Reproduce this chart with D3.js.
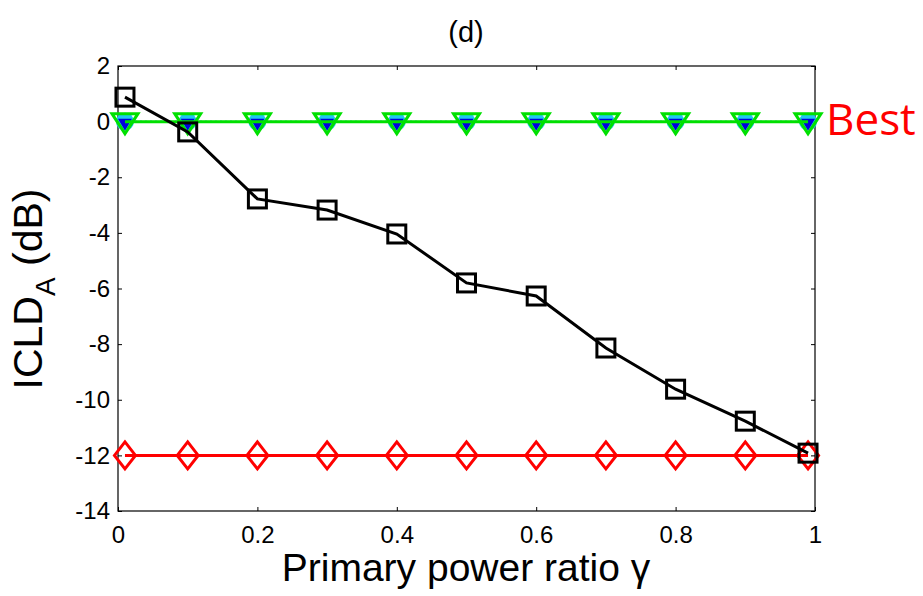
<!DOCTYPE html>
<html>
<head>
<meta charset="utf-8">
<script src="https://cdn.jsdelivr.net/npm/d3@7"></script>
<style>
  html, body { margin: 0; padding: 0; background: #fff; }
  svg { display: block; }
  text { font-family: "Liberation Sans", Arial, sans-serif; }
</style>
</head>
<body>
<svg id="chart" width="923" height="596"></svg>
<script>
// Primary power ratio samples
const gammaValues = [0.01, 0.1, 0.2, 0.3, 0.4, 0.5, 0.6, 0.7, 0.8, 0.9, 0.99];
// ICLD_A estimates (dB) per method
const squareSeries  = [0.88, -0.37, -2.78, -3.18, -4.04, -5.8, -6.27, -8.14, -9.62, -10.77, -11.92];
const diamondSeries = [-12, -12, -12, -12, -12, -12, -12, -12, -12, -12, -12];
const circleSeries  = [0, 0, 0, 0, 0, 0, 0, 0, 0, 0, 0];
const starSeries    = [0, 0, 0, 0, 0, 0, 0, 0, 0, 0, 0];
const triangleSeries = [0, 0, 0, 0, 0, 0, 0, 0, 0, 0, 0];
const xTicks = [0, 0.2, 0.4, 0.6, 0.8, 1];
const yTicks = [2, 0, -2, -4, -6, -8, -10, -12, -14];

const svg = d3.select("#chart");
const L = 118, R = 815, T = 66, B = 511;
const x = d3.scaleLinear().domain([0, 1]).range([L, R]);
const y = d3.scaleLinear().domain([-14, 2]).range([B, T]);

// frame
svg.append("rect").attr("x", L).attr("y", T).attr("width", R - L).attr("height", B - T)
  .attr("fill", "none").attr("stroke", "#000").attr("stroke-width", 1.2);

// axes with inward ticks
const xAxis = svg.append("g").attr("transform", `translate(0,${B})`)
  .call(d3.axisBottom(x).tickValues(xTicks).tickSizeInner(-4).tickSizeOuter(0).tickPadding(15).tickFormat(d => String(d)));
const xAxisTop = svg.append("g").attr("transform", `translate(0,${T})`)
  .call(d3.axisTop(x).tickValues(xTicks).tickSizeInner(-4).tickSizeOuter(0).tickFormat(""));
const yAxis = svg.append("g").attr("transform", `translate(${L},0)`)
  .call(d3.axisLeft(y).tickValues(yTicks).tickSizeInner(-4).tickSizeOuter(0).tickPadding(8).tickFormat(d => String(d)));
const yAxisR = svg.append("g").attr("transform", `translate(${R},0)`)
  .call(d3.axisRight(y).tickValues(yTicks).tickSizeInner(-4).tickSizeOuter(0).tickFormat(""));
[xAxis, xAxisTop, yAxis, yAxisR].forEach(g => {
  g.attr("font-size", null).attr("font-family", null);
  g.select(".domain").remove();
  g.selectAll(".tick line").attr("stroke", "#000").attr("stroke-width", 1);
  g.selectAll("text").style("font-size", "24px").attr("fill", "#000")
    .style("font-family", "'Liberation Sans', Arial, sans-serif");
});

const pts = vals => gammaValues.map((g, i) => [x(g), y(vals[i])]);
const line = d3.line();

// cyan circles
svg.append("g").selectAll("circle").data(pts(circleSeries)).join("circle")
  .attr("cx", d => d[0]).attr("cy", d => d[1]).attr("r", 9).attr("fill", "#1ec8f0");

// blue dotted series with small filled markers
svg.append("path").attr("d", line(pts(starSeries))).attr("fill", "none")
  .attr("stroke", "#0000ff").attr("stroke-width", 2).attr("stroke-dasharray", "2,3");
svg.append("g").selectAll("path").data(pts(starSeries)).join("path")
  .attr("transform", d => `translate(${d[0]},${d[1]})`)
  .attr("d", "M-7,-3 L7,-3 L0,9 Z").attr("fill", "#0000dd");

// red diamonds
svg.append("path").attr("d", line(pts(diamondSeries))).attr("fill", "none")
  .attr("stroke", "#ff0000").attr("stroke-width", 3);
svg.append("g").selectAll("path").data(pts(diamondSeries)).join("path")
  .attr("transform", d => `translate(${d[0]},${d[1]})`)
  .attr("d", "M0,-13.5 L10.5,0 L0,13.5 L-10.5,0 Z").attr("fill", "none")
  .attr("stroke", "#ff0000").attr("stroke-width", 3);

// green line + down triangles
svg.append("path").attr("d", line(pts(triangleSeries))).attr("fill", "none")
  .attr("stroke", "#00e000").attr("stroke-width", 3);
svg.append("g").selectAll("path").data(pts(triangleSeries)).join("path")
  .attr("transform", d => `translate(${d[0]},${d[1]})`)
  .attr("d", "M-13,-8 L13,-8 L0,12 Z").attr("fill", "none")
  .attr("stroke", "#00e000").attr("stroke-width", 3);

// black squares
svg.append("path").attr("d", line(pts(squareSeries))).attr("fill", "none")
  .attr("stroke", "#000").attr("stroke-width", 3);
svg.append("g").selectAll("rect").data(pts(squareSeries)).join("rect")
  .attr("x", d => d[0] - 9).attr("y", d => d[1] - 9).attr("width", 18).attr("height", 18)
  .attr("fill", "none").attr("stroke", "#000").attr("stroke-width", 3);

// title
svg.append("text").attr("x", 466).attr("y", 42).attr("text-anchor", "middle")
  .style("font-size", "29px").text("(d)");

// x label
svg.append("text").attr("x", 466).attr("y", 581).attr("text-anchor", "middle")
  .style("font-size", "39px").text("Primary power ratio γ");

// y label with subscript
const yl = svg.append("text").attr("transform", "translate(42,289) rotate(-90)")
  .attr("text-anchor", "middle").style("font-size", "41px");
yl.append("tspan").text("ICLD");
yl.append("tspan").style("font-size", "28px").attr("dy", 13).text("A");
yl.append("tspan").attr("dy", -13).text(" (dB)");

// annotation
svg.append("text").attr("x", 826).attr("y", 135).attr("fill", "#ff0000")
  .style("font-family", "'Open Sans', Carlito, Lato, sans-serif")
  .style("font-size", "44px").text("Best");
</script>
</body>
</html>
